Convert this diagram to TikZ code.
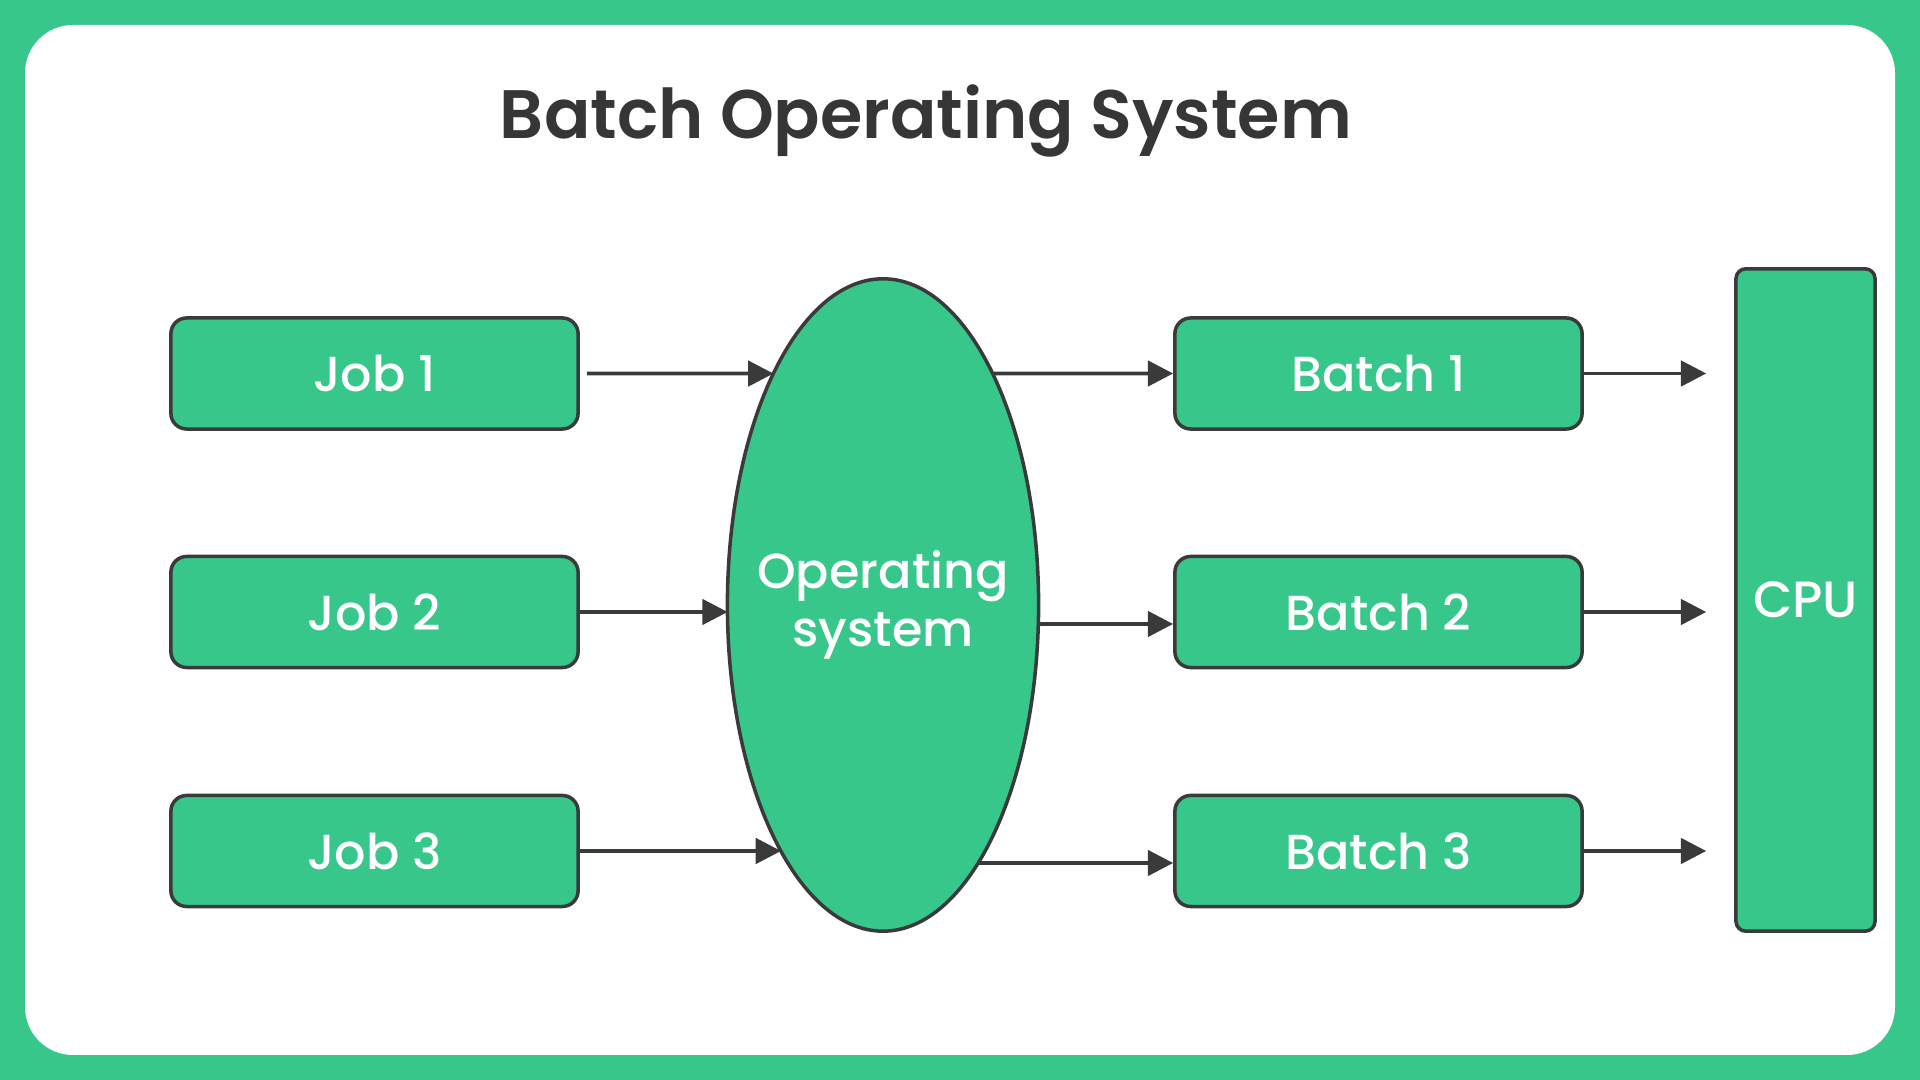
\documentclass[tikz,border=0pt]{standalone}
\usepackage{fontspec}
\setmainfont{Poppins}
\newfontfamily\semib{Poppins SemiBold}
\newfontfamily\medi{Poppins Medium}
\usetikzlibrary{shapes.geometric,arrows.meta,intersections,calc}
\definecolor{gfg}{HTML}{37C78B}
\definecolor{edge}{HTML}{3A3A3A}
\definecolor{ttl}{HTML}{363636}
\begin{document}
\begin{tikzpicture}[x=0.01cm,y=-0.01cm,
  lbl/.style={text=white, font=\medi\fontsize{14}{16.7}\selectfont},
  box/.style={draw=edge, fill=gfg, line width=1pt, rounded corners=4.5pt,
    minimum width=4.07cm, minimum height=1.11cm, inner sep=0pt, lbl},
  arr/.style={draw=edge, line width=1.1pt, -{Triangle[length=7.2pt,width=7.2pt]}}]
\useasboundingbox (0,0) rectangle (1920,1080);
\fill[gfg] (0,0) rectangle (1920,1080);
\fill[white, rounded corners=0.48cm] (25,25) rectangle (1895,1055);

\node[anchor=base, text=ttl, font=\semib\fontsize{19.5}{23}\selectfont] (title) at (926,139) {Batch Operating System};

\node[box] (job1) at (374.5,373.5) {Job 1};
\node[box] (job2) at (374.5,612) {Job 2};
\node[box] (job3) at (374.5,851) {Job 3};

\node[box] (batch1) at (1378.5,373.5) {Batch 1};
\node[box] (batch2) at (1378.5,612) {Batch 2};
\node[box] (batch3) at (1378.5,851) {Batch 3};

\node[draw=edge, fill=gfg, line width=1pt, rounded corners=2.8pt, minimum width=1.39cm, minimum height=6.62cm, inner sep=0pt, lbl, font=\medi\fontsize{14.5}{17}\selectfont] (cpu) at (1805.5,600) {CPU};

\node[draw=edge, fill=gfg, line width=1pt, ellipse, minimum width=3.11cm, minimum height=6.52cm, inner sep=0pt] (os) at (883,605) {};
\node[lbl, align=center, inner sep=0pt] (oslabel) at (os.center) {Operating\\system};
\path[name path=ellp] (os.center) ellipse [x radius=155.5, y radius=326];

% left arrows
\path[name path=h1] (job1.east) -- ++(300,0);
\path[name path=h2] (job2.east) -- ++(300,0);
\path[name path=h3] (job3.east) -- ++(300,0);
\path[name intersections={of=h1 and ellp, by={i1}}];
\path[name intersections={of=h2 and ellp, by={i2}}];
\path[name intersections={of=h3 and ellp, by={i3}}];
\draw[arr, shorten <=2pt] (job1.east) -- (i1);
\draw[arr] (job2.east) -- (i2);
\draw[arr] (job3.east) -- (i3);

% right arrows
\coordinate (b1) at (batch1.west);
\coordinate (b2) at ($(batch2.west)+(0,12)$);
\coordinate (b3) at ($(batch3.west)+(0,12)$);
\path[name path=h4] (b1) -- ++(-300,0);
\path[name path=h5] (b2) -- ++(-300,0);
\path[name path=h6] (b3) -- ++(-300,0);
\path[name intersections={of=h4 and ellp, by={i4}}];
\path[name intersections={of=h5 and ellp, by={i5}}];
\path[name intersections={of=h6 and ellp, by={i6}}];
\draw[arr] (i4) -- (b1);
\draw[arr] (i5) -- (b2);
\draw[arr] (i6) -- (b3);

% to CPU
\draw[arr, shorten >=0.28cm] (batch1.east) -- (batch1.east -| cpu.west);
\draw[arr, shorten >=0.28cm] (batch2.east) -- (batch2.east -| cpu.west);
\draw[arr, shorten >=0.28cm] (batch3.east) -- (batch3.east -| cpu.west);
\end{tikzpicture}
\end{document}
